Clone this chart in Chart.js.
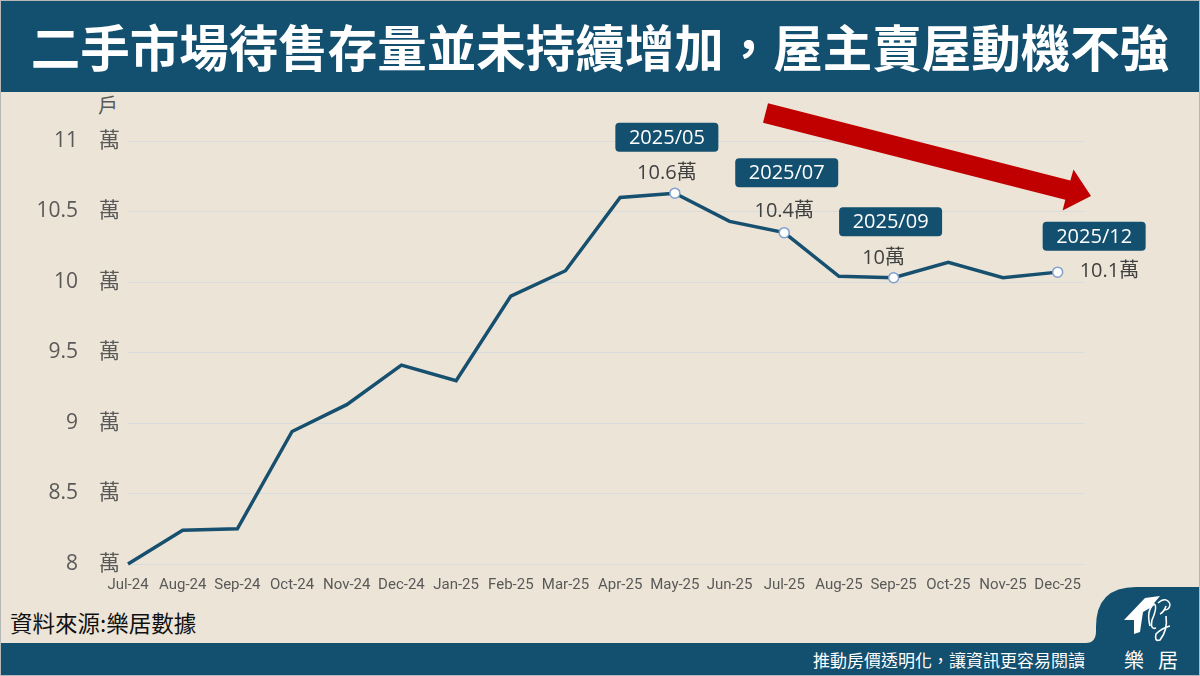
<!DOCTYPE html>
<html>
<head>
<meta charset="utf-8">
<script src="https://cdn.jsdelivr.net/npm/chart.js@4/dist/chart.umd.min.js"></script>
<style>
  html, body { margin:0; padding:0; }
  body { width:1200px; height:676px; overflow:hidden; background:#ECE5D7; }
  #wrap { position:relative; width:1200px; height:676px; overflow:hidden; background:#ECE5D7; }
  #header { position:absolute; left:0; top:0; width:1200px; height:92px; background:#134F6E; }
  #title { position:absolute; left:0; top:0; width:1200px; height:92px; line-height:92px; text-align:center;
           color:#fff; font-family:"Noto Sans CJK TC","Noto Sans CJK SC",sans-serif; font-weight:700; font-size:49.5px; white-space:nowrap; }
  #footer { position:absolute; left:0; top:643px; width:1200px; height:33px; background:#134F6E; }
  #slogan { position:absolute; right:115px; top:643px; height:33px; line-height:33px; color:#fff;
            font-family:"Noto Sans CJK TC",sans-serif; font-size:17px; white-space:nowrap; }
  #source { position:absolute; left:10px; top:606px; color:#111; font-family:"Noto Sans CJK TC",sans-serif; font-weight:400; font-size:22.5px; white-space:nowrap; }
  #unit { position:absolute; left:98px; top:90px; color:#595959; font-family:"Noto Sans CJK TC",sans-serif; font-size:20px; }
  #logo { position:absolute; left:0; top:0; }
  #c { position:absolute; left:0; top:0; }
  #frame { position:absolute; left:0; top:0; width:1198px; height:674px; border:1px solid #B8B8B8; pointer-events:none; }
</style>
</head>
<body>
<div id="wrap">
  <div id="header"></div>
  <div id="title">二手市場待售存量並未持續增加，屋主賣屋動機不強</div>
  <div id="footer"></div>
  <svg id="logo" width="1200" height="676" viewBox="0 0 1200 676">
    <path d="M1086,643 Q1096,643 1096,631 L1096,627 Q1096,587 1136,587 L1200,587 L1200,643 Z" fill="#134F6E"/>
    <path d="M1124,620 L1145,598 L1160,596 L1150,608 L1143,612 L1140,632 L1134,634 L1134,620 Z" fill="#fff"/>
    <path d="M1150,626 Q1146,610 1154,604 Q1158,606 1152,620 Q1150,630 1156,628" fill="none" stroke="#fff" stroke-width="1.6"/>
    <path d="M1166,606 Q1164,612 1160,614 M1166,616 Q1168,630 1160,640 Q1154,642 1156,634 Q1162,628 1170,626" fill="none" stroke="#fff" stroke-width="1.6"/>
    <path d="M1158,603 Q1166,596 1170,604 Q1170,610 1164,610" fill="none" stroke="#fff" stroke-width="1.4"/>
    <text x="1124" y="668" fill="#fff" font-family="Noto Sans CJK TC" font-size="20">樂</text>
    <text x="1158" y="668" fill="#fff" font-family="Noto Sans CJK TC" font-size="20">居</text>
  </svg>
  <div id="slogan">推動房價透明化，讓資訊更容易閱讀</div>
  <div id="source">資料來源:樂居數據</div>
  <div id="unit">戶</div>
  <canvas id="c" width="1200" height="676"></canvas>
  <div id="frame"></div>
</div>
<script>
// ---- data ----
const categories = ["Jul-24","Aug-24","Sep-24","Oct-24","Nov-24","Dec-24","Jan-25","Feb-25","Mar-25","Apr-25","May-25","Jun-25","Jul-25","Aug-25","Sep-25","Oct-25","Nov-25","Dec-25"];
const inventory  = [8.00, 8.24, 8.25, 8.94, 9.13, 9.41, 9.30, 9.90, 10.08, 10.60, 10.63, 10.43, 10.35, 10.04, 10.03, 10.14, 10.03, 10.07];
const yTicks = [8, 8.5, 9, 9.5, 10, 10.5, 11];
const highlightIndex = [10, 12, 14, 17];
const highlightDates = ["2025/05", "2025/07", "2025/09", "2025/12"];
const highlightValues = ["10.6萬", "10.4萬", "10萬", "10.1萬"];

// ---- annotation placement (styles, not data) ----
const annoLayout = [
  { boxDx: -8,   boxDy: -56, lblDx: -8, lblDy: -20, align: "center" },
  { boxDx: 2.5,  boxDy: -60, lblDx: 0,  lblDy: -21, align: "center" },
  { boxDx: -3,   boxDy: -56, lblDx: -10, lblDy: -19, align: "center" },
  { boxDx: 36.5, boxDy: -36, lblDx: 22, lblDy: -1,  align: "left" }
];

const LINE = "#174F6F";
const FONT = '"Open Sans","Noto Sans CJK TC",sans-serif';

const points = inventory.map((v, i) => ({ x: i, y: v }));

const annoPlugin = {
  id: "anno",
  afterDatasetsDraw(chart) {
    const ctx = chart.ctx;
    const xs = chart.scales.x, ys = chart.scales.y;
    ctx.save();
    // red trend arrow (decoration)
    ctx.fillStyle = "#C00000";
    ctx.beginPath();
    ctx.moveTo(768, 103.3);
    ctx.lineTo(1070.3, 180.4);
    ctx.lineTo(1073.5, 169.5);
    ctx.lineTo(1091, 196);
    ctx.lineTo(1062.6, 210.4);
    ctx.lineTo(1065.3, 199.8);
    ctx.lineTo(763, 122.7);
    ctx.closePath();
    ctx.fill();

    highlightIndex.forEach((idx, k) => {
      const px = xs.getPixelForValue(idx);
      const py = ys.getPixelForValue(inventory[idx]);
      const L = annoLayout[k];
      const bw = 103, bh = 29, r = 4;
      const bx = px + L.boxDx - bw / 2, by = py + L.boxDy - bh / 2;
      ctx.fillStyle = "#134F6E";
      ctx.beginPath();
      ctx.roundRect(bx, by, bw, bh, r);
      ctx.fill();
      ctx.fillStyle = "#FFFFFF";
      ctx.font = "20px " + FONT;
      ctx.textAlign = "center";
      ctx.textBaseline = "middle";
      ctx.fillText(highlightDates[k], bx + bw / 2, by + bh / 2 + 1);
      ctx.fillStyle = "#404040";
      ctx.font = "20px " + FONT;
      ctx.textAlign = L.align;
      ctx.fillText(highlightValues[k], px + L.lblDx, py + L.lblDy);
    });
    ctx.restore();
  }
};

new Chart(document.getElementById("c"), {
  type: "line",
  data: {
    datasets: [{
      data: points,
      borderColor: LINE,
      borderWidth: 3.5,
      tension: 0,
      pointRadius: (c) => highlightIndex.includes(c.dataIndex) ? 5 : 0,
      pointBackgroundColor: "#FFFFFF",
      pointBorderColor: "#7F9FCC",
      pointBorderWidth: 1.5,
      clip: false
    }]
  },
  options: {
    responsive: false,
    animation: false,
    devicePixelRatio: 1,
    layout: { padding: { left: 0, top: 141, right: 115, bottom: 72 } },
    plugins: { legend: { display: false }, tooltip: { enabled: false } },
    scales: {
      x: {
        type: "linear",
        min: 0, max: 17.5,
        afterFit: (s) => { s.height = 40; },
        afterBuildTicks: (s) => { s.ticks = categories.map((_, i) => ({ value: i })); },
        ticks: {
          autoSkip: false, maxRotation: 0, minRotation: 0, padding: 12,
          color: "#595959", font: { family: '"Roboto","Open Sans",sans-serif', size: 15 },
          callback: (v) => categories[v] ?? ""
        },
        grid: { display: false, drawTicks: false },
        border: { display: false }
      },
      y: {
        min: 8, max: 11,
        afterFit: (s) => { s.width = 128; },
        afterBuildTicks: (s) => { s.ticks = yTicks.map(v => ({ value: v })); },
        ticks: {
          padding: 8, color: "#595959", font: { family: FONT, size: 21 },
          callback: (v) => v + "\u2003萬"
        },
        grid: { color: "#D9DCDC", lineWidth: 1, drawTicks: false },
        border: { display: false }
      }
    }
  },
  plugins: [annoPlugin]
});
</script>
</body>
</html>
